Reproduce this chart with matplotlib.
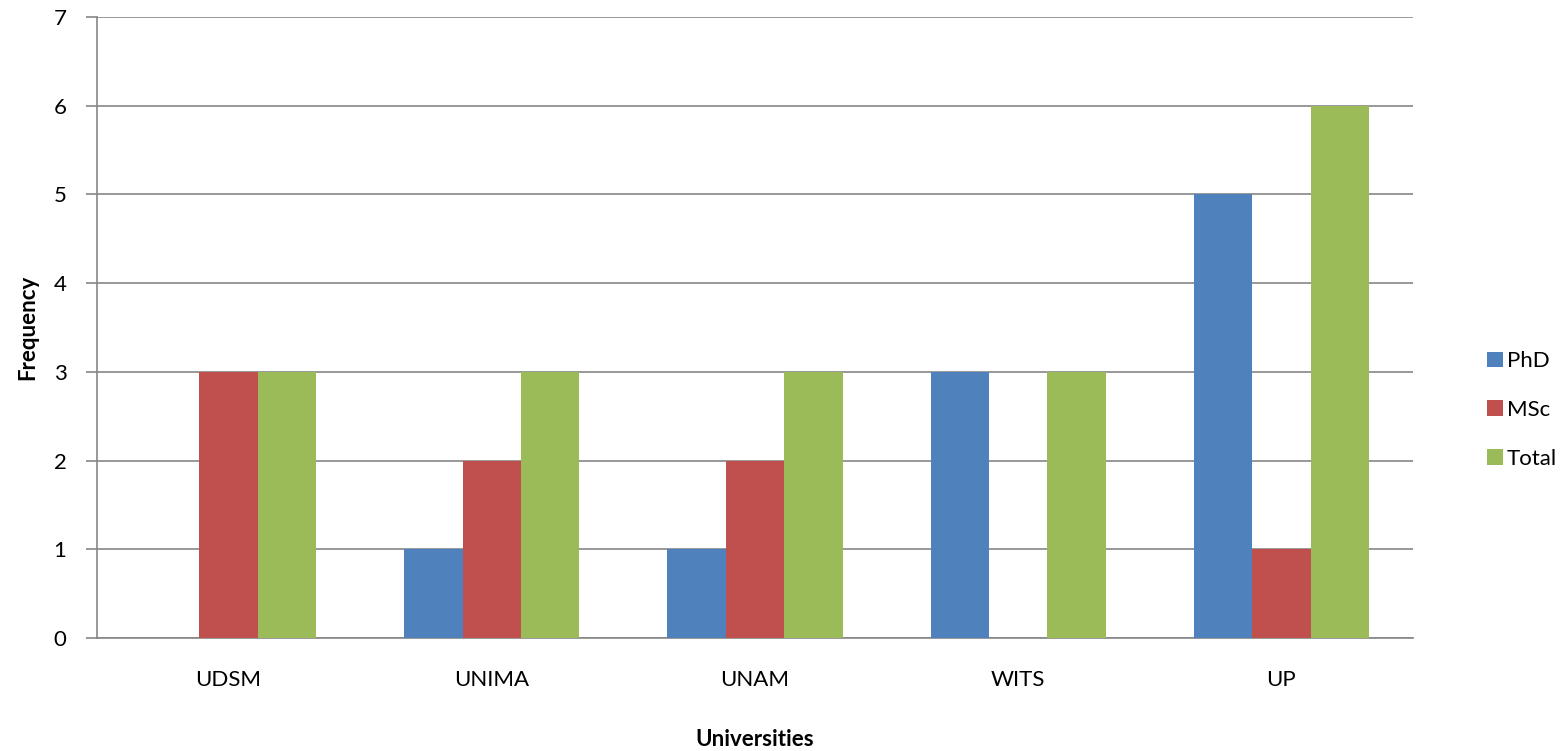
import numpy as np
import matplotlib.pyplot as plt
from matplotlib.patches import Patch

# data
universities = ["UDSM", "UNIMA", "UNAM", "WITS", "UP"]
phd = [0, 1, 1, 3, 5]
msc = [3, 2, 2, 0, 1]
total = [3, 3, 3, 3, 6]

series = [("PhD", phd, "#4F81BD"), ("MSc", msc, "#C0504D"), ("Total", total, "#9BBB59")]

plt.rcParams['font.family'] = ['Lato', 'DejaVu Sans']
fs = 16

fig = plt.figure(figsize=(15.66, 7.51), dpi=100)
ax = fig.add_axes([97 / 1566, 1 - 638 / 751, (1413 - 97) / 1566, (638 - 17) / 751])

x = np.arange(len(universities))
w = 0.222
for i, (name, vals, col) in enumerate(series):
    ax.bar(x + (i - 1) * w, vals, width=w, color=col, label=name, zorder=3)

ax.set_xlim(-0.5, len(universities) - 0.5)
ax.set_ylim(0, 7)
ax.set_yticks(range(0, 8))
ax.set_xticks(x)
ax.set_xticklabels(universities)
ax.tick_params(axis='x', length=0, pad=23, labelsize=fs)
ax.tick_params(axis='y', length=8, width=1.2, color="#868686", pad=14, labelsize=fs)
ax.yaxis.grid(True, color="#868686", linewidth=1.2, zorder=0)

for s in ["top", "right"]:
    ax.spines[s].set_visible(False)
for s in ["left", "bottom"]:
    ax.spines[s].set_color("#868686")
    ax.spines[s].set_linewidth(1.2)

ax.set_ylabel("Frequency", fontsize=fs, fontweight="bold")
ax.yaxis.set_label_coords(-59 / 1316, 0.5)
ax.set_xlabel("Universities", fontsize=fs, fontweight="bold", va="center")
ax.xaxis.set_label_coords(0.5, -(740 - 638) / 621)

handles = [Patch(facecolor=c, label=n) for n, _, c in series]
fig.legend(handles=handles, loc="center left", bbox_to_anchor=(1467 / 1566, 1 - 410 / 751),
           frameon=False, fontsize=fs, handlelength=0.7, handleheight=0.7,
           handletextpad=0.2, labelspacing=1.3)

fig.savefig("out.png", dpi=100)
